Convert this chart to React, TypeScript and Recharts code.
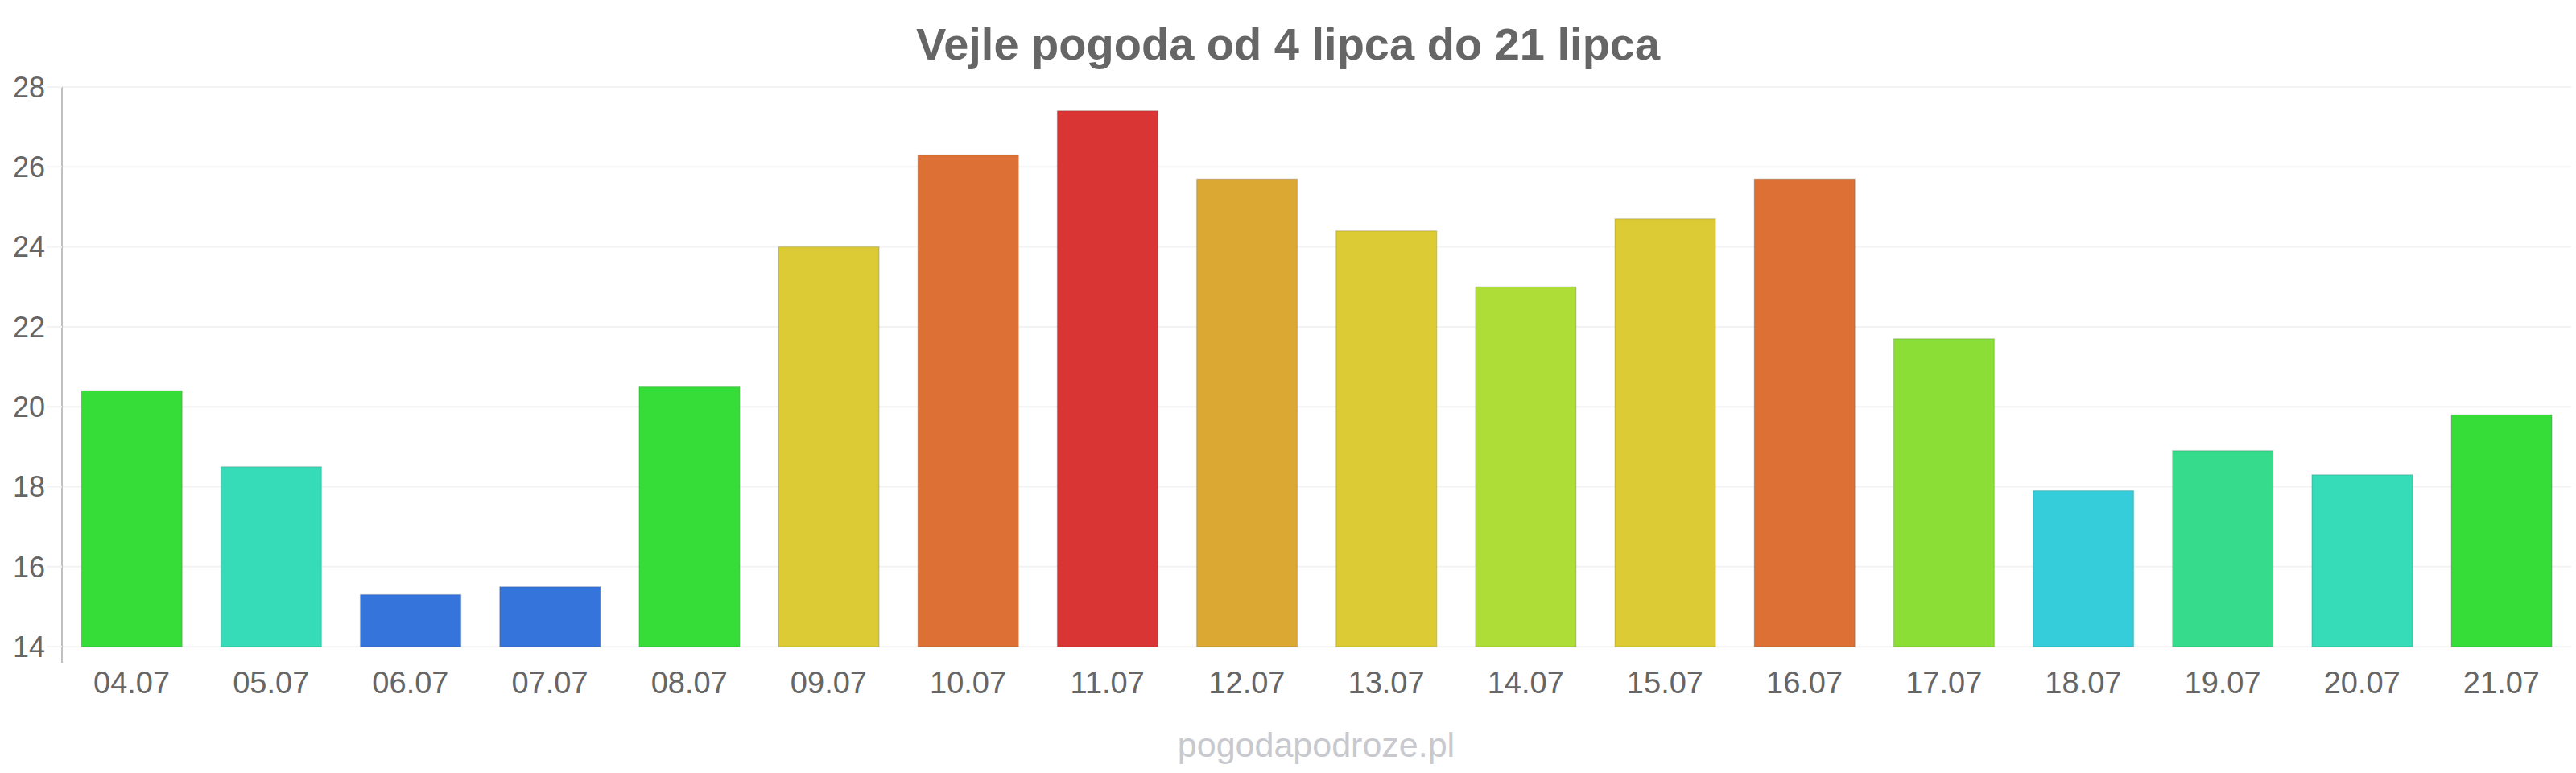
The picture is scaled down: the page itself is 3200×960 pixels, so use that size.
import { Bar, BarChart, CartesianGrid, Cell, XAxis, YAxis } from "recharts";

const DATES = [
  "04.07", "05.07", "06.07", "07.07", "08.07", "09.07", "10.07", "11.07", "12.07",
  "13.07", "14.07", "15.07", "16.07", "17.07", "18.07", "19.07", "20.07", "21.07"
];

const TEMPS = [
  20.4, 18.5, 15.3, 15.5, 20.5, 24.0, 26.3, 27.4, 25.7,
  24.4, 23.0, 24.7, 25.7, 21.7, 17.9, 18.9, 18.3, 19.8
];

const Y_TICKS = [14, 16, 18, 20, 22, 24, 26, 28];
const BASE = 14;

const COLORS = [
  "#36dd38", "#36dcb8", "#3575db", "#3575db", "#36dd38", "#dccb34", "#dd7034", "#da3535", "#dca834",
  "#dccb34", "#addd36", "#dccb34", "#dd7034", "#8bde36", "#36cdda", "#36dc8b", "#36dcb8", "#36dd38"
];

const FONT = '"Liberation Sans", Arial, Helvetica, sans-serif';

const data = DATES.map((d, i) => ({ date: d, temp: TEMPS[i] }));

export default function App() {
  return (
    <div style={{ position: "relative", width: 3200, height: 960, background: "#fff", fontFamily: FONT }}>
      <style>{`body{margin:0}`}</style>
      <BarChart
        width={3200}
        height={960}
        data={data}
        margin={{ top: 108, right: 6, bottom: 77, left: 0 }}
        barCategoryGap="14%"
      >
        <CartesianGrid vertical={false} horizontalValues={Y_TICKS} stroke="#f3f3f3" strokeWidth={2} />
        <XAxis
          dataKey="date"
          axisLine={false}
          tickLine={false}
          tickSize={0}
          tickMargin={11}
          height={60}
          interval={0}
          tick={{ fill: "#666666", fontSize: 38, fontFamily: FONT }}
        />
        <YAxis
          type="number"
          domain={[13.6, 28]}
          ticks={Y_TICKS}
          allowDataOverflow
          width={77}
          axisLine={{ stroke: "#c0c0c0", strokeWidth: 2 }}
          tickLine={{ stroke: "#f3f3f3", strokeWidth: 2 }}
          tickSize={19}
          tickMargin={2}
          tick={{ fill: "#666666", fontSize: 36, fontFamily: FONT }}
        />
        <Bar
          dataKey={(d: { temp: number }) => [BASE, d.temp]}
          isAnimationActive={false}
          stroke="rgba(0,0,0,0.12)"
          strokeWidth={1.5}
        >
          {data.map((entry, idx) => (
            <Cell key={entry.date} fill={COLORS[idx % COLORS.length]} />
          ))}
        </Bar>
      </BarChart>
      <svg
        width={3200}
        height={960}
        style={{ position: "absolute", left: 0, top: 0, pointerEvents: "none" }}
      >
        <text
          x={1600}
          y={74}
          textAnchor="middle"
          fontFamily={FONT}
          fontSize={56}
          fontWeight={700}
          fill="#666666"
        >
          Vejle pogoda od 4 lipca do 21 lipca
        </text>
        <text x={1635} y={940} textAnchor="middle" fontFamily={FONT} fontSize={43} fill="#c8c9ce">
          pogodapodroze.pl
        </text>
      </svg>
    </div>
  );
}
